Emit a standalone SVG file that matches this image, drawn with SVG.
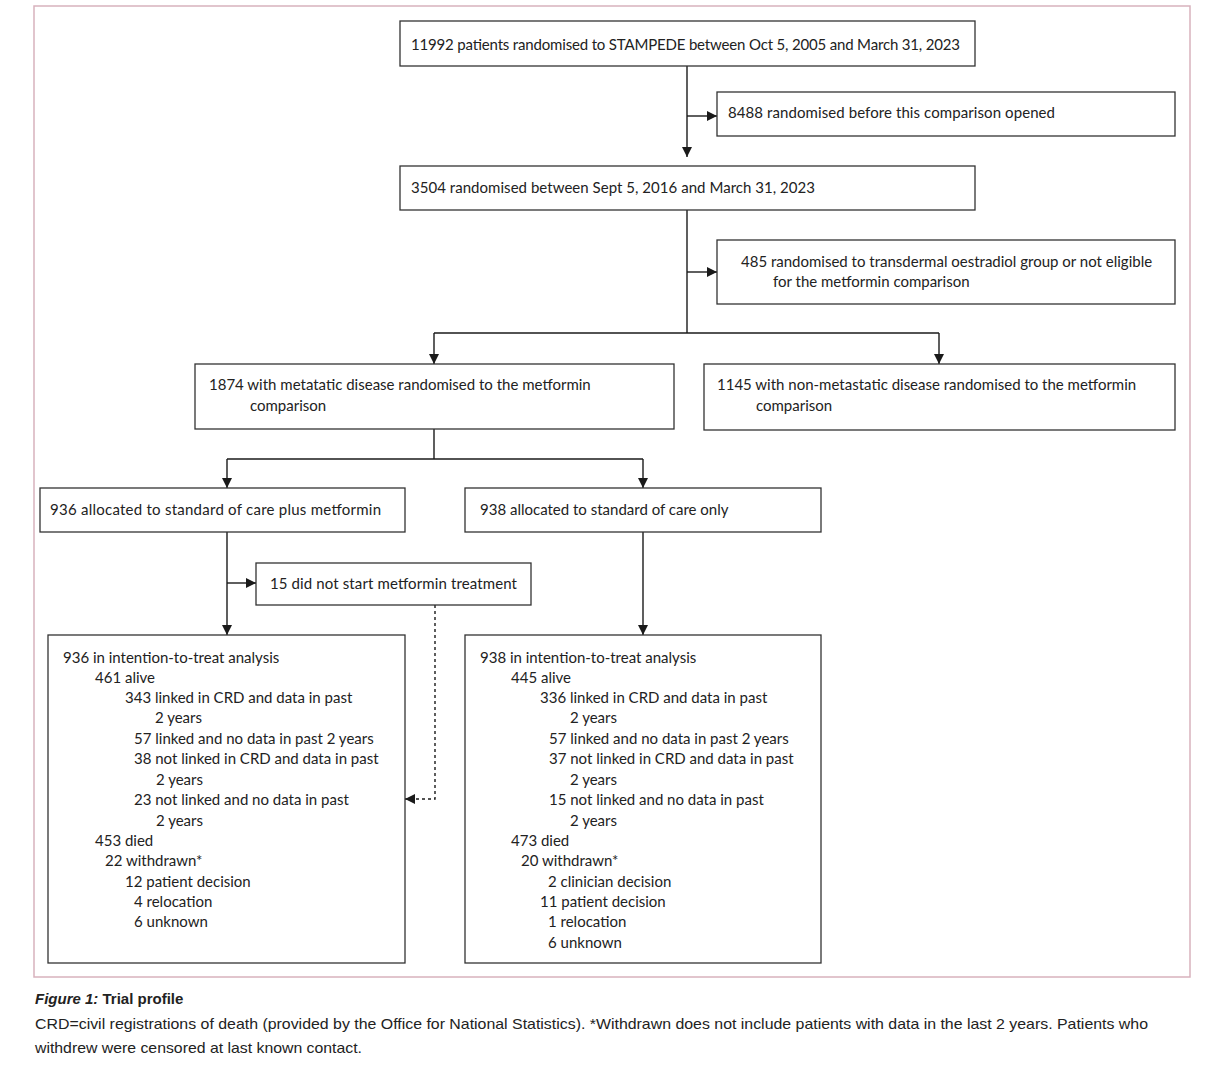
<svg xmlns="http://www.w3.org/2000/svg" width="1212" height="1072" viewBox="0 0 1212 1072">
<defs>
<marker id="ah" viewBox="0 0 10 10" refX="10" refY="5" markerWidth="10" markerHeight="10" markerUnits="userSpaceOnUse" orient="auto">
<path d="M0,0 L10,5 L0,10 z" fill="#1a1a1a"/>
</marker>
<style>
.box{fill:#fff;stroke:#333;stroke-width:1.3}
.ln{fill:none;stroke:#1a1a1a;stroke-width:1.4}
.dash{fill:none;stroke:#1a1a1a;stroke-width:1.4;stroke-dasharray:3,3}
text{font-family:Lato,"Liberation Sans",sans-serif;font-size:15px;fill:#222}
.cap{font-family:"Liberation Sans",Arial,sans-serif;font-size:15px;fill:#222}
</style>
</defs>
<rect x="0" y="0" width="1212" height="1072" fill="#fff"/>
<rect x="34" y="6" width="1156" height="971" fill="none" stroke="#d8b2bd" stroke-width="1.5"/>

<g id="connectors">
<path class="ln" d="M687,66 V157" marker-end="url(#ah)"/>
<path class="ln" d="M687,116 H717" marker-end="url(#ah)"/>
<path class="ln" d="M687,210 V333"/>
<path class="ln" d="M687,272 H717" marker-end="url(#ah)"/>
<path class="ln" d="M434,333 H939"/>
<path class="ln" d="M434,333 V364" marker-end="url(#ah)"/>
<path class="ln" d="M939,333 V364" marker-end="url(#ah)"/>
<path class="ln" d="M434,429 V459"/>
<path class="ln" d="M227,459 H643"/>
<path class="ln" d="M227,459 V488" marker-end="url(#ah)"/>
<path class="ln" d="M643,459 V488" marker-end="url(#ah)"/>
<path class="ln" d="M227,532 V635" marker-end="url(#ah)"/>
<path class="ln" d="M227,583 H256" marker-end="url(#ah)"/>
<path class="ln" d="M643,532 V635" marker-end="url(#ah)"/>
<path class="dash" d="M435,605 V799 H405" marker-end="url(#ah)"/>
</g>

<g id="n1">
<rect class="box" x="400" y="21" width="575" height="45"/>
<text x="411" y="50" textLength="549">11992 patients randomised to STAMPEDE between Oct 5, 2005 and March 31, 2023</text>
</g>
<g id="n2">
<rect class="box" x="717" y="92" width="458" height="44"/>
<text x="728" y="118" textLength="327">8488 randomised before this comparison opened</text>
</g>
<g id="n3">
<rect class="box" x="400" y="166" width="575" height="44"/>
<text x="411" y="193" textLength="404">3504 randomised between Sept 5, 2016 and March 31, 2023</text>
</g>
<g id="n4">
<rect class="box" x="717" y="240" width="458" height="64"/>
<text x="741" y="267">485 randomised to transdermal oestradiol group or not eligible</text>
<text x="773" y="287">for the metformin comparison</text>
</g>
<g id="n5">
<rect class="box" x="195" y="364" width="479" height="65"/>
<text x="209" y="390">1874 with metatatic disease randomised to the metformin</text>
<text x="250" y="411">comparison</text>
</g>
<g id="n6">
<rect class="box" x="704" y="364" width="471" height="66"/>
<text x="717" y="390">1145 with non-metastatic disease randomised to the metformin</text>
<text x="756" y="411">comparison</text>
</g>
<g id="n7">
<rect class="box" x="40" y="488" width="365" height="44"/>
<text x="50" y="515" textLength="331">936 allocated to standard of care plus metformin</text>
</g>
<g id="n8">
<rect class="box" x="465" y="488" width="356" height="44"/>
<text x="480" y="515">938 allocated to standard of care only</text>
</g>
<g id="n9">
<rect class="box" x="256" y="563" width="275" height="42"/>
<text x="270" y="589" textLength="247">15 did not start metformin treatment</text>
</g>
<g id="n10">
<rect class="box" x="48" y="635" width="357" height="328"/>
<text x="63" y="663">936 in intention-to-treat analysis</text>
<text x="95" y="683">461 alive</text>
<text x="125" y="703">343 linked in CRD and data in past</text>
<text x="155" y="723">2 years</text>
<text x="134" y="744">57 linked and no data in past 2 years</text>
<text x="134" y="764">38 not linked in CRD and data in past</text>
<text x="156" y="785">2 years</text>
<text x="134" y="805">23 not linked and no data in past</text>
<text x="156" y="826">2 years</text>
<text x="95" y="846">453 died</text>
<text x="105" y="866">22 withdrawn*</text>
<text x="125" y="887">12 patient decision</text>
<text x="134" y="907">4 relocation</text>
<text x="134" y="927">6 unknown</text>
</g>
<g id="n11">
<rect class="box" x="465" y="635" width="356" height="328"/>
<text x="480" y="663">938 in intention-to-treat analysis</text>
<text x="511" y="683">445 alive</text>
<text x="540" y="703">336 linked in CRD and data in past</text>
<text x="570" y="723">2 years</text>
<text x="549" y="744">57 linked and no data in past 2 years</text>
<text x="549" y="764">37 not linked in CRD and data in past</text>
<text x="570" y="785">2 years</text>
<text x="549" y="805">15 not linked and no data in past</text>
<text x="570" y="826">2 years</text>
<text x="511" y="846">473 died</text>
<text x="521" y="866">20 withdrawn*</text>
<text x="548" y="887">2 clinician decision</text>
<text x="540" y="907">11 patient decision</text>
<text x="548" y="927">1 relocation</text>
<text x="548" y="948">6 unknown</text>
</g>

<g id="caption">
<text class="cap" x="35" y="1004" font-weight="bold"><tspan font-style="italic">Figure 1:</tspan> Trial profile</text>
<text class="cap" x="35" y="1029" textLength="1113" lengthAdjust="spacingAndGlyphs">CRD=civil registrations of death (provided by the Office for National Statistics). *Withdrawn does not include patients with data in the last 2 years. Patients who</text>
<text class="cap" x="35" y="1053" textLength="327" lengthAdjust="spacingAndGlyphs">withdrew were censored at last known contact.</text>
</g>
</svg>
